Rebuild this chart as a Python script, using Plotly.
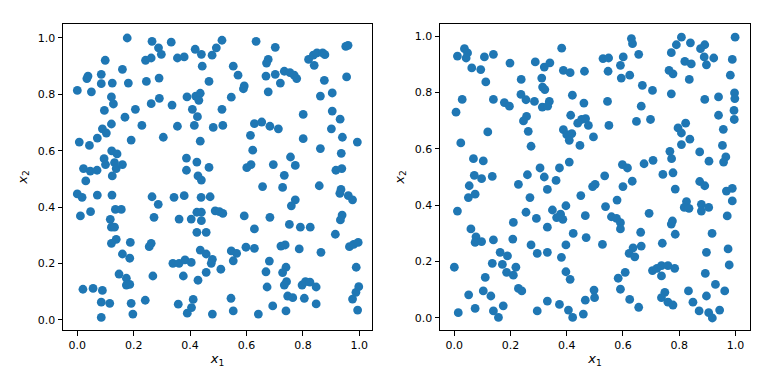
import plotly.graph_objects as go

# (x1, x2) samples
left_pts = [
(0.177,1.000),(0.265,0.988),(0.333,0.985),(0.288,0.965),(0.298,0.942),(0.418,0.960),(0.440,0.942),(0.478,0.939),(0.493,0.965),
(0.099,0.921),(0.242,0.921),(0.262,0.929),(0.355,0.929),(0.379,0.933),(0.443,0.900),(0.160,0.889),(0.038,0.865),(0.034,0.856),
(0.085,0.871),(0.085,0.838),(0.124,0.840),(0.181,0.840),(0.245,0.846),(0.290,0.858),(0.467,0.846),(0.000,0.814),(0.050,0.809),
(0.121,0.791),(0.128,0.766),(0.291,0.786),(0.262,0.767),(0.336,0.762),(0.389,0.791),(0.420,0.794),(0.436,0.804),(0.431,0.779),
(0.408,0.747),(0.426,0.721),(0.096,0.743),(0.206,0.747),(0.169,0.719),(0.121,0.695),(0.089,0.678),(0.103,0.663),(0.229,0.690),
(0.355,0.687),(0.415,0.690),(0.482,0.683),(0.007,0.631),(0.043,0.619),(0.071,0.645),(0.191,0.638),(0.305,0.648),(0.436,0.634),
(0.122,0.600),(0.141,0.589),(0.095,0.572),(0.100,0.551),(0.132,0.558),(0.138,0.537),(0.160,0.551),(0.022,0.537),(0.046,0.528),
(0.070,0.531),(0.124,0.511),(0.030,0.493),(0.387,0.574),(0.424,0.560),(0.467,0.541),(0.387,0.531),(0.428,0.511),
(0.513,0.992),(0.634,0.988),(0.702,0.967),(0.553,0.900),(0.570,0.868),(0.592,0.830),(0.589,0.820),(0.546,0.790),(0.513,0.747),(0.516,0.690),
(0.677,0.924),(0.671,0.911),(0.669,0.865),(0.702,0.871),(0.720,0.840),(0.734,0.882),(0.754,0.877),(0.769,0.868),(0.778,0.856),(0.677,0.809),
(0.820,0.924),(0.837,0.939),(0.850,0.947),(0.870,0.947),(0.878,0.941),(0.840,0.903),(0.952,0.970),(0.960,0.974),(0.876,0.850),(0.955,0.862),
(0.862,0.794),(0.904,0.805),(0.801,0.729),(0.904,0.741),(0.932,0.712),(0.901,0.678),(0.940,0.648),(0.993,0.631),(0.801,0.643),(0.862,0.608),
(0.936,0.591),(0.628,0.696),(0.654,0.702),(0.683,0.687),(0.713,0.678),(0.614,0.655),(0.622,0.602),(0.756,0.578),(0.773,0.548),(0.695,0.551),
(0.734,0.513),(0.601,0.540),(0.616,0.551),(0.917,0.531),(0.938,0.537),
(0.000,0.447),(0.017,0.435),(0.071,0.443),(0.123,0.443),(0.011,0.369),(0.047,0.384),(0.135,0.392),(0.156,0.392),(0.117,0.357),(0.121,0.329),
(0.132,0.329),(0.138,0.286),(0.121,0.272),(0.188,0.275),(0.160,0.234),(0.186,0.219),(0.148,0.163),(0.174,0.148),(0.174,0.124),(0.186,0.126),
(0.020,0.109),(0.056,0.112),(0.089,0.105),(0.085,0.063),(0.115,0.059),(0.085,0.009),(0.191,0.059),(0.197,0.021),(0.241,0.070),(0.265,0.437),
(0.287,0.410),(0.272,0.364),(0.262,0.272),(0.255,0.260),(0.268,0.156),(0.343,0.435),(0.379,0.441),(0.440,0.496),(0.439,0.435),
(0.471,0.437),(0.424,0.382),(0.440,0.382),(0.440,0.352),(0.489,0.387),(0.361,0.358),(0.404,0.358),(0.424,0.311),(0.457,0.311),(0.436,0.248),
(0.457,0.234),(0.479,0.215),(0.475,0.201),(0.339,0.201),(0.361,0.201),(0.382,0.213),(0.404,0.204),(0.376,0.156),(0.457,0.169),(0.428,0.141),
(0.411,0.073),(0.405,0.044),(0.390,0.024),(0.358,0.056),(0.479,0.021),
(0.657,0.473),(0.728,0.470),(0.858,0.476),(0.935,0.463),(0.931,0.449),(0.961,0.441),(0.976,0.426),(0.773,0.426),(0.759,0.405),(0.504,0.384),
(0.516,0.378),(0.592,0.369),(0.683,0.364),(0.628,0.323),(0.752,0.339),(0.791,0.329),(0.826,0.329),(0.939,0.372),(0.933,0.355),(0.915,0.304),
(0.965,0.260),(0.980,0.268),(0.996,0.275),(0.598,0.258),(0.628,0.254),(0.546,0.245),(0.565,0.236),(0.553,0.210),(0.509,0.180),(0.722,0.262),
(0.737,0.266),(0.787,0.252),(0.864,0.240),(0.681,0.209),(0.669,0.171),(0.740,0.187),(0.728,0.168),(0.742,0.136),(0.734,0.124),(0.673,0.117),
(0.797,0.124),(0.809,0.136),(0.825,0.134),(0.847,0.117),(0.989,0.187),(0.998,0.118),(0.988,0.098),(0.976,0.074),(0.994,0.035),(0.746,0.085),
(0.764,0.079),(0.805,0.077),(0.847,0.057),(0.693,0.050),(0.740,0.032),(0.642,0.021),(0.553,0.032),(0.545,0.077),
]

# (x1, x2) samples
right_pts = [
(0.036,0.955),(0.047,0.940),(0.011,0.929),(0.042,0.922),(0.107,0.926),(0.139,0.935),(0.062,0.887),(0.094,0.881),(0.112,0.837),(0.198,0.904),
(0.382,0.957),(0.288,0.908),(0.320,0.890),(0.340,0.905),(0.388,0.878),(0.412,0.870),(0.463,0.875),(0.238,0.846),(0.311,0.851),(0.314,0.819),
(0.322,0.810),(0.420,0.790),(0.028,0.775),(0.006,0.730),(0.139,0.775),(0.178,0.764),(0.196,0.751),(0.237,0.793),(0.255,0.774),(0.285,0.768),
(0.338,0.768),(0.313,0.748),(0.332,0.751),(0.461,0.762),(0.257,0.715),(0.246,0.699),(0.414,0.719),(0.439,0.691),(0.453,0.704),(0.467,0.707),
(0.477,0.683),(0.495,0.642),(0.119,0.660),(0.263,0.662),(0.388,0.668),(0.400,0.650),(0.418,0.654),(0.409,0.630),(0.447,0.612),(0.023,0.621),
(0.273,0.609),(0.068,0.565),(0.103,0.557),(0.409,0.553),(0.305,0.532),(0.374,0.532),(0.071,0.506),(0.097,0.494),(0.135,0.502),(0.260,0.508),
(0.320,0.500),
(0.053,0.469),(0.050,0.427),(0.074,0.439),(0.228,0.474),(0.331,0.456),(0.362,0.488),(0.492,0.466),(0.501,0.474),
(0.011,0.379),(0.269,0.427),(0.255,0.375),(0.292,0.353),(0.210,0.339),(0.331,0.322),(0.349,0.383),(0.364,0.356),(0.378,0.368),(0.386,0.350),(0.397,0.398),
(0.450,0.434),(0.466,0.363),(0.469,0.285),(0.423,0.300),(0.397,0.259),(0.381,0.215),(0.059,0.316),(0.077,0.288),(0.074,0.268),(0.097,0.271),
(0.139,0.277),(0.208,0.280),(0.273,0.259),(0.295,0.229),(0.331,0.233),(0.163,0.233),(0.189,0.220),(0.135,0.194),(0.171,0.190),(0.219,0.180),
(0.186,0.162),(0.210,0.152),(0.000,0.180),(0.110,0.144),(0.397,0.164),(0.412,0.137),(0.228,0.105),(0.240,0.096),(0.103,0.096),(0.130,0.078),
(0.051,0.082),(0.074,0.034),(0.014,0.019),(0.139,0.025),(0.157,0.002),(0.174,0.043),(0.295,0.025),(0.331,0.060),(0.374,0.048),(0.406,0.028),
(0.421,0.002),(0.459,0.014),(0.466,0.063),(0.497,0.099),(0.499,0.072),
(0.630,0.991),(0.634,0.973),(0.808,0.996),(0.790,0.969),(0.840,0.976),(0.999,0.996),(0.891,0.969),(0.876,0.955),(0.529,0.920),(0.549,0.922),
(0.601,0.926),(0.656,0.935),(0.772,0.941),(0.591,0.896),(0.594,0.851),(0.624,0.861),(0.547,0.875),(0.820,0.910),(0.843,0.901),(0.889,0.926),
(0.897,0.898),(0.923,0.922),(0.989,0.917),(0.764,0.878),(0.778,0.866),(0.836,0.846),(0.982,0.861),(0.669,0.825),(0.705,0.807),(0.772,0.795),
(0.545,0.768),(0.665,0.751),(0.648,0.697),(0.698,0.704),(0.550,0.683),(0.891,0.775),(0.940,0.784),(0.997,0.798),(0.998,0.778),(0.995,0.736),
(0.996,0.704),(0.940,0.719),(0.957,0.669),(0.823,0.691),(0.796,0.674),(0.808,0.656),(0.838,0.634),(0.808,0.615),(0.954,0.612),(0.767,0.591),
(0.773,0.565),(0.873,0.589),(0.906,0.556),(0.966,0.571),(0.958,0.553),(0.598,0.544),(0.616,0.532),(0.675,0.547),(0.707,0.559),(0.742,0.509),
(0.778,0.515),(0.535,0.504),
(0.633,0.485),(0.600,0.466),(0.873,0.484),(0.891,0.469),(0.786,0.457),(0.968,0.450),(0.989,0.460),(0.989,0.415),(0.971,0.362),(0.579,0.418),
(0.538,0.395),(0.559,0.359),(0.577,0.353),(0.591,0.338),(0.591,0.316),(0.693,0.371),(0.826,0.413),(0.818,0.392),(0.835,0.389),(0.879,0.403),
(0.879,0.379),(0.905,0.392),(0.776,0.344),(0.772,0.333),(0.786,0.297),(0.663,0.304),(0.917,0.300),(0.527,0.261),(0.665,0.255),(0.636,0.249),
(0.622,0.229),(0.642,0.217),(0.740,0.265),(0.897,0.233),(0.974,0.245),(0.978,0.188),(0.608,0.162),(0.583,0.141),(0.705,0.168),(0.721,0.176),
(0.737,0.186),(0.737,0.149),(0.760,0.186),(0.784,0.176),(0.893,0.158),(0.929,0.119),(0.962,0.096),(0.591,0.102),(0.624,0.066),(0.656,0.038),
(0.749,0.091),(0.737,0.072),(0.760,0.056),(0.778,0.046),(0.833,0.096),(0.849,0.056),(0.897,0.078),(0.871,0.025),(0.905,0.019),(0.918,0.000),(0.944,0.028),
]

tick_vals = [0.0, 0.2, 0.4, 0.6, 0.8, 1.0]
tick_text = ["0.0", "0.2", "0.4", "0.6", "0.8", "1.0"]
x_title = "<i>x</i><sub>1</sub>"
y_title = "<i>x</i><sub>2</sub>"

left_x1 = [p[0] for p in left_pts]
left_x2 = [p[1] for p in left_pts]
right_x1 = [p[0] for p in right_pts]
right_x2 = [p[1] for p in right_pts]

color = "#1f77b4"
fig = go.Figure()
fig.add_trace(go.Scatter(x=left_x1, y=left_x2, mode="markers",
                         marker=dict(size=8.8, color=color, line=dict(width=0)),
                         xaxis="x", yaxis="y", showlegend=False))
fig.add_trace(go.Scatter(x=right_x1, y=right_x2, mode="markers",
                         marker=dict(size=8.8, color=color, line=dict(width=0)),
                         xaxis="x2", yaxis="y2", showlegend=False))

font = dict(family="DejaVu Sans", size=11, color="black")
tfont = dict(family="DejaVu Sans", size=13, color="black")
common = dict(showline=True, mirror=True, linecolor="black", linewidth=1,
              ticks="outside", ticklen=4.5, tickwidth=1, tickcolor="black",
              showgrid=False, zeroline=False, tickfont=font,
              tickvals=tick_vals, ticktext=tick_text)

fig.update_layout(
    width=768, height=384,
    margin=dict(l=0, r=0, t=0, b=0),
    paper_bgcolor="white", plot_bgcolor="white",
    xaxis=dict(domain=[63/768, 372/768], range=[-0.0507, 1.045], anchor="y",
               title=dict(text=x_title, font=tfont, standoff=3), **common),
    yaxis=dict(domain=[1-330/384, 1-24/384], range=[-0.0355, 1.0496], anchor="x",
               title=dict(text=y_title, font=tfont, standoff=7), **common),
    xaxis2=dict(domain=[440/768, 750/768], range=[-0.051, 1.052], anchor="y2",
                title=dict(text=x_title, font=tfont, standoff=3), **common),
    yaxis2=dict(domain=[1-330/384, 1-24/384], range=[-0.0426, 1.0426], anchor="x2",
                title=dict(text=y_title, font=tfont, standoff=7), **common),
)

fig.write_html("out.html")
